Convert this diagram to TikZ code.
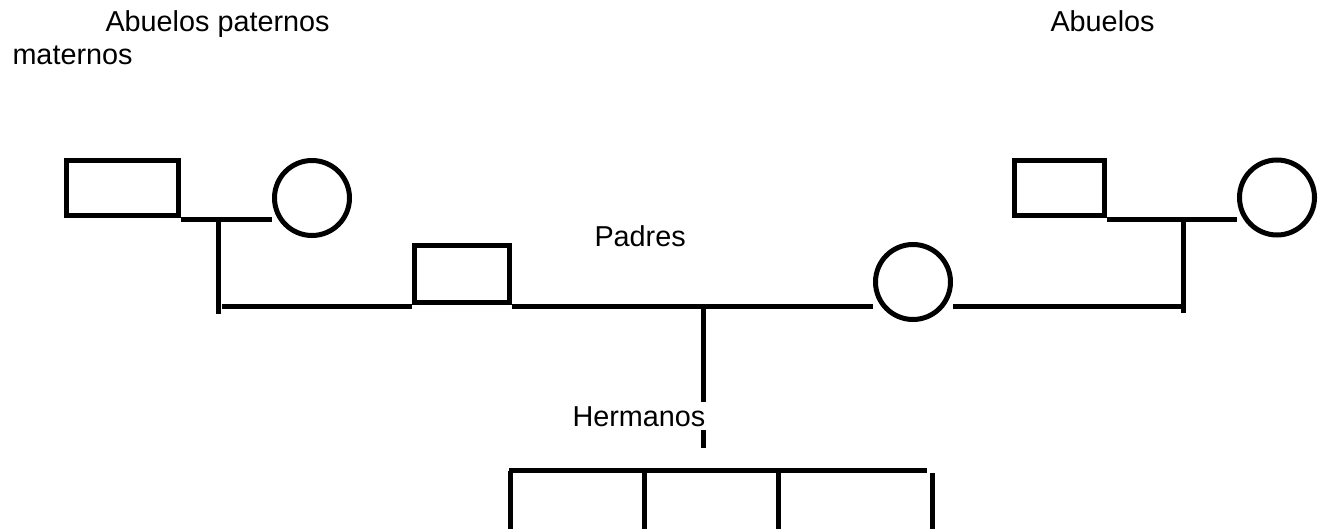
\documentclass[tikz,border=0pt]{standalone}
\usepackage{fontspec}
\setmainfont{Liberation Sans}
\begin{document}
\begin{tikzpicture}[x=0.5pt,y=-0.5pt,line width=2.5pt,
	hombre/.style={draw,rectangle,inner sep=0pt},
	mujer/.style={draw,circle,inner sep=0pt,minimum size=37.5pt},
	texto/.style={anchor=base west,inner sep=0pt,font=\fontsize{14.4}{17}\selectfont}]
	\useasboundingbox (0,0) rectangle (1324,529);
	\node[texto] (tpaternos) at (103,32) {Abuelos paternos};
	\node[texto] (tmaternos) at (10,65) {maternos};
	\node[texto] (tabuelos) at (1048,32) {Abuelos};
	\node[texto] (tpadres) at (592,247) {Padres};
	\node[texto] (thermanos) at (570,427) {Hermanos};
	% abuelos
	\node[hombre,minimum width=56pt,minimum height=27.5pt] (abuelo1) at (122.5,188) {};
	\node[mujer] (abuela1) at (312,198) {};
	\node[hombre,minimum width=45pt,minimum height=27.5pt] (abuelo2) at (1059.5,188) {};
	\node[mujer] (abuela2) at (1277,197.5) {};
	% padres
	\node[hombre,minimum width=47.5pt,minimum height=28.5pt] (padre) at (462,274) {};
	\node[mujer] (madre) at (913,282) {};
	\coordinate (u1) at (218,220);
	\coordinate (b1) at (218,314);
	\coordinate (c1) at (222,307);
	\coordinate (u3) at (1183,220);
	\coordinate (b3) at (1183,313);
	\coordinate (u2) at (703,307);
	\draw (abuelo1.east |- u1) -- (abuela1.west |- u1);
	\draw (u1) -- (b1);
	\draw (abuelo2.east |- u3) -- (abuela2.west |- u3);
	\draw (u3) -- (b3);
	\draw (c1) -- (padre.west |- u2);
	\draw (padre.east |- u2) -- (madre.west |- u2);
	\draw (madre.east |- u2) -- (b3 |- u2);
	% hermanos
	\coordinate (h1) at (703,402);
	\coordinate (h2) at (703,430);
	\coordinate (h3) at (703,448);
	\draw (u2) -- (h1);
	\draw (h2) -- (h3);
	\coordinate (r1) at (509,471);
	\coordinate (r2) at (927,471);
	\draw (r1) -- (r2);
	\foreach \x in {510,644,778}
	{\draw (\x,471) -- (\x,529);}
	\draw (932,473) -- (932,529);
\end{tikzpicture}
\end{document}
